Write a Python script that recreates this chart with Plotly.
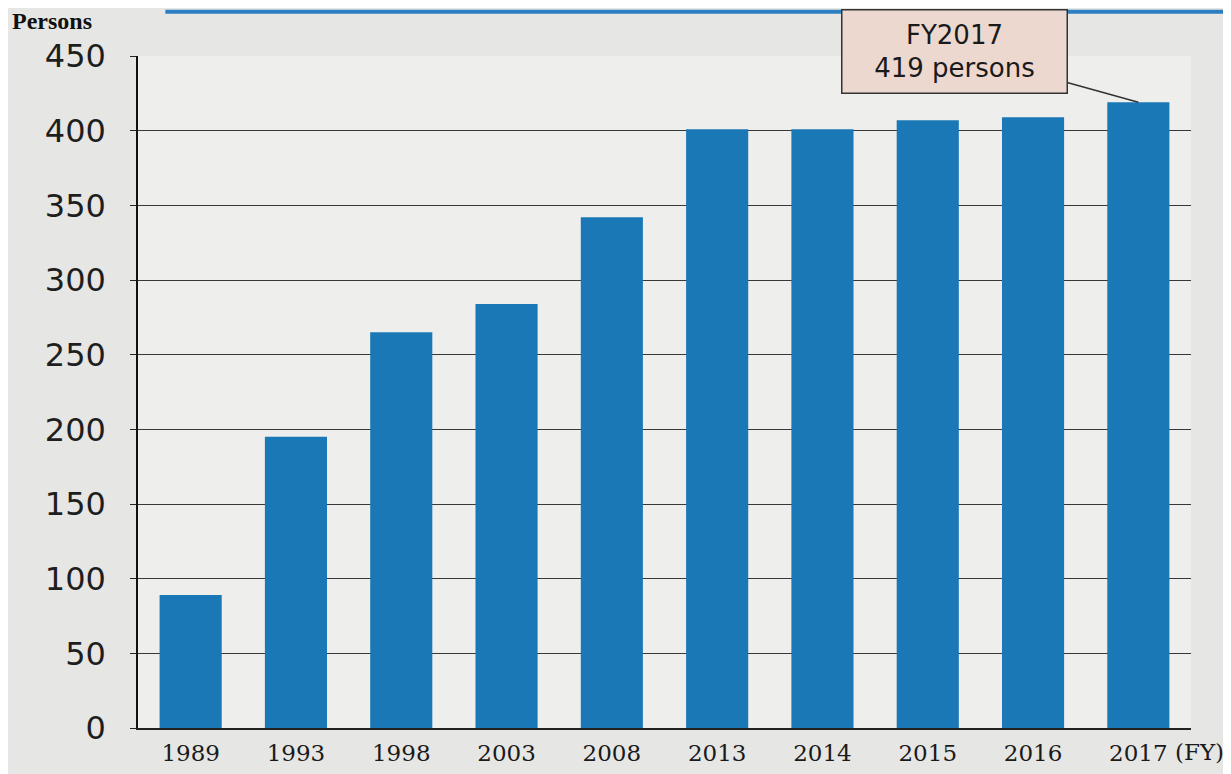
import plotly.graph_objects as go

years = ["1989", "1993", "1998", "2003", "2008", "2013", "2014", "2015", "2016", "2017"]
persons = [89, 195, 265, 284, 342, 401, 401, 407, 409, 419]
y_ticks = [0, 50, 100, 150, 200, 250, 300, 350, 400, 450]

# page body has an 8px margin, so the figure starts 8px in from the top-left
W, H, OFF = 1231 - 8, 774 - 8, 8

fig = go.Figure()
fig.add_trace(go.Bar(
    x=years, y=persons,
    marker=dict(color="#1a78b6", line=dict(width=0)),
    hoverinfo="x+y",
))

fig.update_layout(
    width=W, height=H,
    margin=dict(l=138 - OFF, r=40, t=56 - OFF, b=46),
    paper_bgcolor="#e6e6e4",
    plot_bgcolor="#eeeeed",
    bargap=0.41,
    showlegend=False,
    xaxis=dict(
        type="category", automargin=False,
        tickfont=dict(family="DejaVu Serif", size=23, color="#1a1a1a"),
        showgrid=False,
        showline=True, linecolor="#222", linewidth=1.5,
        ticks="", ticklabelstandoff=4,
    ),
    yaxis=dict(
        range=[0, 450], automargin=False,
        tickvals=y_ticks,
        tickfont=dict(family="DejaVu Sans", size=32, color="#1e1e1e"),
        showgrid=True, gridcolor="#383838", gridwidth=1.3,
        showline=True, linecolor="#111", linewidth=1.5,
        ticks="outside", ticklen=6, tickcolor="#222",
        ticklabelstandoff=18,
        zeroline=False,
    ),
)

fig.add_annotation(
    xref="paper", yref="paper", x=-0.122, y=1.052, xanchor="left", yanchor="middle",
    text="<b>Persons</b>", showarrow=False,
    font=dict(family="Liberation Serif", size=24, color="#111"),
)
fig.add_annotation(
    xref="paper", yref="paper", x=0.983, y=-0.036, xanchor="left", yanchor="middle",
    text="(FY)", showarrow=False,
    font=dict(family="DejaVu Serif", size=23, color="#1a1a1a"),
)
last = len(years) - 1
fig.add_annotation(
    x=last, y=persons[last], xref="x", yref="y",
    text=f"FY{years[last]}<br>{persons[last]} persons",
    showarrow=True, arrowhead=0, arrowwidth=1.5, arrowcolor="#333",
    ax=-184, ay=-51,
    width=222, height=80,
    bgcolor="#ecd8cf", bordercolor="#333", borderwidth=1.5,
    font=dict(family="DejaVu Sans", size=26, color="#1a1a1a"),
)
fig.add_shape(
    type="line", xref="paper", yref="paper",
    x0=0.026, x1=1.04, y0=1.066, y1=1.066,
    line=dict(color="#2b7fc1", width=4),
)

fig.write_html("out.html")
